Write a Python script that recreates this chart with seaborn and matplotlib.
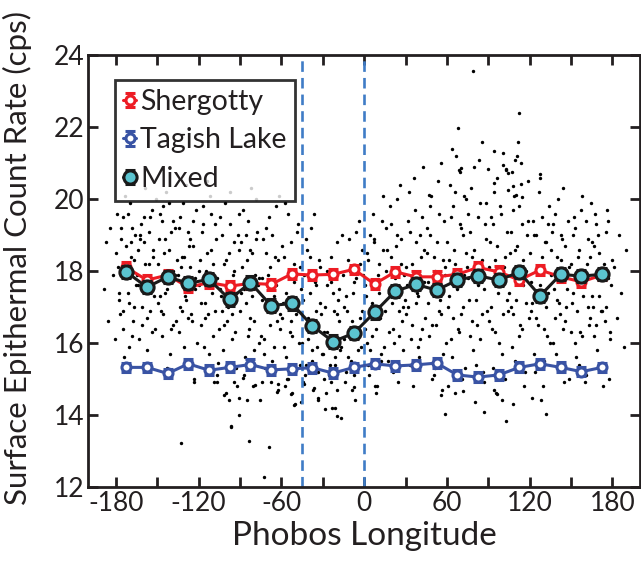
import matplotlib
matplotlib.use("Agg")
import matplotlib.pyplot as plt
from matplotlib.ticker import MultipleLocator
from matplotlib.legend_handler import HandlerErrorbar
from matplotlib.container import ErrorbarContainer
import seaborn as sns
import pandas as pd

# binned means, 15 degree bins
lon_bins = [-172.5, -157.5, -142.5, -127.5, -112.5, -97.5, -82.5, -67.5,
            -52.5, -37.5, -22.5, -7.5, 7.5, 22.5, 37.5, 52.5,
            67.5, 82.5, 97.5, 112.5, 127.5, 142.5, 157.5, 172.5]
shergotty = [18.10, 17.75, 17.89, 17.55, 17.68, 17.58, 17.66, 17.63,
             17.92, 17.89, 17.91, 18.05, 17.64, 17.98, 17.84, 17.84,
             17.91, 18.10, 17.98, 17.75, 18.03, 17.84, 17.70, 17.89]
shergotty_err = [0.14, 0.13, 0.14, 0.14, 0.15, 0.14, 0.15, 0.15,
                 0.14, 0.14, 0.14, 0.13, 0.13, 0.14, 0.15, 0.15,
                 0.15, 0.16, 0.16, 0.15, 0.15, 0.14, 0.14, 0.14]
tagish = [15.32, 15.32, 15.15, 15.42, 15.24, 15.32, 15.40, 15.25,
          15.28, 15.31, 15.16, 15.32, 15.42, 15.36, 15.39, 15.44,
          15.11, 15.05, 15.11, 15.32, 15.42, 15.32, 15.20, 15.32]
tagish_err = [0.13, 0.13, 0.13, 0.14, 0.14, 0.14, 0.15, 0.14,
              0.14, 0.14, 0.13, 0.13, 0.12, 0.13, 0.14, 0.14,
              0.15, 0.15, 0.15, 0.14, 0.14, 0.14, 0.13, 0.13]
mixed = [17.98, 17.55, 17.84, 17.66, 17.77, 17.21, 17.68, 17.04,
         17.10, 16.47, 16.04, 16.27, 16.85, 17.44, 17.63, 17.47,
         17.75, 17.87, 17.75, 17.97, 17.31, 17.91, 17.86, 17.91]
mixed_err = [0.17, 0.17, 0.17, 0.17, 0.17, 0.17, 0.17, 0.17,
             0.17, 0.17, 0.17, 0.17, 0.17, 0.17, 0.17, 0.17,
             0.17, 0.17, 0.17, 0.17, 0.17, 0.17, 0.17, 0.17]

dot_lon = [
    -179.2, -177.5, -176.1, -174.8, -173.3, -172.0, -170.6, -169.4, -168.1, -166.7,
    -178.6, -176.9, -175.2, -173.9, -172.6, -171.1, -169.9, -168.5, -167.2, -165.8,
    -164.3, -163.1, -161.8, -160.2, -159.0, -157.7, -156.3, -155.1, -153.6, -152.2,
    -164.8, -162.5, -161.0, -159.6, -158.2, -156.9, -155.5, -154.2, -152.8, -151.1,
    -149.4, -148.0, -146.7, -145.3, -144.0, -142.6, -141.1, -139.8, -138.3, -136.6,
    -149.0, -147.4, -146.0, -144.5, -143.1, -141.7, -140.3, -138.9, -137.4, -135.8,
    -134.5, -133.2, -131.8, -130.4, -129.1, -127.6, -126.2, -124.9, -123.5, -121.8,
    -134.0, -132.5, -131.1, -129.7, -128.3, -126.9, -125.4, -124.1, -122.6, -120.9,
    -119.2, -118.0, -116.5, -115.1, -113.8, -112.2, -110.9, -109.5, -108.0, -106.4,
    -119.6, -117.3, -116.0, -114.4, -113.0, -111.6, -110.2, -108.7, -107.3, -105.6,
    -104.6, -103.1, -101.8, -100.3, -99.0, -97.5, -96.1, -94.6, -93.0, -91.4,
    -104.0, -102.4, -101.1, -99.7, -98.2, -96.8, -95.3, -93.8, -92.2, -90.6,
    -89.4, -88.0, -86.6, -85.1, -83.7, -82.2, -80.8, -79.3, -77.8, -76.2,
    -89.0, -87.3, -85.9, -84.4, -82.9, -81.5, -80.0, -78.6, -77.0, -75.5,
    -74.6, -73.1, -71.8, -70.2, -68.9, -67.4, -66.0, -64.5, -63.1, -61.4,
    -74.0, -72.5, -71.0, -69.6, -68.2, -66.7, -65.2, -63.8, -62.3, -60.8,
    -59.4, -58.1, -56.5, -55.1, -53.8, -52.2, -50.9, -49.3, -47.8, -46.2,
    -59.0, -57.3, -55.8, -54.5, -53.0, -51.6, -50.1, -48.6, -47.1, -45.6,
    -44.5, -43.0, -41.7, -40.2, -38.8, -37.3, -35.9, -34.4, -32.9, -31.3,
    -44.0, -42.4, -41.0, -39.5, -38.1, -36.6, -35.1, -33.7, -32.2, -30.7,
    -29.4, -28.0, -26.6, -25.1, -23.7, -22.2, -20.8, -19.3, -17.8, -16.3,
    -29.0, -27.3, -25.9, -24.4, -22.9, -21.5, -20.0, -18.6, -17.1, -15.6,
    -14.4, -13.0, -11.6, -10.2, -8.7, -7.3, -5.8, -4.3, -2.9, -1.3,
    -14.0, -12.4, -11.0, -9.5, -8.1, -6.6, -5.1, -3.6, -2.1, -0.7,
    0.6, 2.0, 3.4, 4.9, 6.3, 7.8, 9.3, 10.7, 12.2, 13.8,
    1.1, 2.7, 4.1, 5.6, 7.0, 8.5, 10.0, 11.5, 13.0, 14.5,
    15.6, 17.0, 18.4, 19.9, 21.3, 22.8, 24.3, 25.7, 27.2, 28.7,
    16.1, 17.7, 19.1, 20.6, 22.0, 23.5, 25.0, 26.5, 27.9, 29.5,
    30.4, 31.8, 33.3, 34.7, 36.2, 37.7, 39.1, 40.6, 42.1, 43.7,
    31.0, 32.5, 34.0, 35.4, 36.9, 38.4, 39.9, 41.4, 42.9, 44.4,
    45.5, 46.9, 48.3, 49.8, 51.3, 52.7, 54.2, 55.7, 57.2, 58.7,
    46.0, 47.6, 49.1, 50.5, 52.0, 53.4, 54.9, 56.4, 57.9, 59.5,
    60.6, 62.0, 63.5, 64.9, 66.4, 67.9, 69.3, 70.8, 72.3, 73.8,
    61.2, 62.7, 64.2, 65.7, 67.1, 68.6, 70.1, 71.6, 73.1, 74.6,
    75.4, 76.8, 78.3, 79.8, 81.2, 82.7, 84.2, 85.6, 87.1, 88.6,
    76.0, 77.5, 79.0, 80.5, 82.0, 83.4, 84.9, 86.4, 87.9, 89.4,
    90.5, 91.9, 93.4, 94.9, 96.3, 97.8, 99.3, 100.8, 102.3, 103.8,
    91.1, 92.6, 94.1, 95.6, 97.1, 98.6, 100.1, 101.6, 103.1, 104.6,
    105.5, 107.0, 108.4, 109.9, 111.4, 112.9, 114.4, 115.8, 117.3, 118.8,
    106.1, 107.6, 109.1, 110.6, 112.1, 113.6, 115.1, 116.6, 118.1, 119.6,
    120.6, 122.1, 123.6, 125.0, 126.5, 128.0, 129.4, 130.9, 132.4, 133.9,
    121.2, 122.8, 124.3, 125.8, 127.3, 128.7, 130.2, 131.7, 133.2, 134.6,
    135.5, 137.0, 138.4, 139.9, 141.4, 142.9, 144.4, 145.8, 147.3, 148.8,
    136.1, 137.6, 139.1, 140.6, 142.1, 143.6, 145.1, 146.6, 148.1, 149.6,
    150.5, 152.0, 153.4, 154.9, 156.4, 157.9, 159.3, 160.8, 162.3, 163.8,
    151.1, 152.6, 154.1, 155.6, 157.1, 158.6, 160.1, 161.6, 163.1, 164.6,
    165.4, 166.9, 168.4, 169.9, 171.3, 172.8, 174.3, 175.8, 177.3, 178.7,
    166.0, 167.5, 169.0, 170.5, 172.0, 173.5, 175.0, 176.5, 178.0, 179.5,
    -189.0, -187.4, -185.6, -184.1, -182.3, -181.0, 181.2, 183.0, 184.6, 186.3,
    188.1, 189.5,
    79.0, 112.0, 68.3, 85.3, 63.4, 93.8, 110.8, 109.3, 70.2, 69.2,
    89.6, 100.8, 102.8, 104.2, 106.9, 127.3, 94.0, 107.9, 113.9, 104.0,
    47.1, 66.1, 72.4, 110.3, 114.7,
    -106.2, -123.7, -106.9, -101.8, -98.2, -94.2, -91.1, -85.0, -90.4, -96.9,
    -132.7, -83.6, -69.2, -72.7, -87.5, -78.9, -74.3, -62.5, -62.9, -57.6,
    -52.7, -50.8, -55.2, -45.7, -43.5, -36.7, -33.7, -28.6, -23.5, -19.9,
    -19.5, -7.3, 9.5, 50.5, 55.6, 58.3, 60.5, 71.4, 80.4, 87.0,
    94.2, 96.0, 99.9, 102.8, 108.1, 121.5, 128.0, 131.7,
]
dot_rate = [
    19.6, 17.2, 18.9, 16.4, 20.1, 17.8, 15.9, 18.4, 19.2, 17.0,
    18.1, 16.8, 19.5, 15.6, 18.7, 17.4, 19.9, 16.2, 18.3, 17.6,
    18.6, 16.1, 19.3, 17.5, 20.3, 15.8, 18.2, 16.9, 19.7, 17.3,
    17.9, 19.0, 16.5, 18.8, 15.4, 17.7, 19.5, 16.3, 18.4, 20.0,
    17.1, 19.6, 16.2, 18.5, 20.2, 17.7, 15.7, 19.1, 18.0, 16.6,
    18.9, 16.9, 19.8, 17.4, 15.3, 18.6, 16.4, 19.4, 17.9, 18.3,
    19.2, 17.0, 18.4, 15.9, 20.4, 16.7, 18.9, 17.6, 14.9, 19.7,
    16.3, 18.1, 19.9, 17.3, 15.5, 18.7, 16.8, 19.4, 17.8, 16.0,
    18.3, 16.5, 19.8, 17.1, 20.5, 15.7, 18.6, 16.2, 19.3, 15.1,
    17.6, 19.1, 15.9, 18.0, 16.8, 20.1, 17.4, 14.9, 18.9, 16.4,
    19.5, 16.9, 18.2, 14.6, 17.7, 20.2, 16.1, 18.8, 15.3, 19.0,
    17.3, 15.8, 19.9, 16.6, 18.5, 13.7, 17.9, 16.3, 14.8, 18.6,
    17.4, 19.7, 15.6, 18.3, 16.4, 20.3, 14.8, 17.9, 19.1, 16.0,
    18.8, 15.1, 17.1, 19.4, 16.7, 18.5, 15.8, 20.0, 17.6, 14.4,
    16.2, 18.9, 15.3, 17.6, 19.5, 14.9, 17.0, 18.4, 16.6, 20.1,
    17.8, 15.7, 19.2, 16.9, 18.1, 15.5, 17.3, 19.8, 14.7, 16.4,
    18.7, 15.9, 17.4, 19.6, 16.3, 14.6, 18.2, 16.8, 19.3, 15.4,
    17.1, 19.9, 15.0, 18.0, 16.6, 17.8, 14.3, 19.1, 16.0, 17.5,
    17.2, 15.1, 18.6, 16.4, 19.2, 14.7, 17.7, 15.9, 18.3, 16.8,
    14.9, 18.9, 16.1, 17.4, 15.5, 19.6, 16.9, 14.4, 18.1, 15.7,
    16.3, 14.6, 17.6, 15.4, 18.4, 16.9, 14.2, 17.2, 15.8, 19.0,
    15.0, 18.0, 16.0, 14.9, 17.4, 15.6, 18.8, 16.6, 13.9, 17.9,
    17.0, 15.2, 18.3, 16.2, 14.7, 17.7, 19.1, 15.8, 16.7, 18.6,
    14.9, 16.9, 18.9, 15.5, 17.4, 14.4, 16.4, 19.4, 15.9, 17.9,
    16.4, 18.5, 15.1, 17.7, 19.6, 14.8, 16.9, 18.2, 15.7, 20.1,
    17.3, 15.4, 19.0, 16.2, 18.8, 14.6, 17.9, 16.7, 19.4, 15.9,
    18.0, 15.5, 19.8, 17.1, 16.0, 18.7, 14.9, 20.4, 16.6, 17.9,
    19.2, 16.3, 18.4, 15.2, 17.5, 20.0, 16.9, 18.9, 15.8, 17.2,
    16.8, 19.4, 15.4, 18.2, 20.6, 17.1, 15.9, 19.0, 16.4, 18.6,
    17.6, 20.2, 16.1, 14.8, 19.7, 17.4, 15.6, 18.4, 20.9, 16.7,
    19.2, 16.2, 20.1, 17.4, 15.3, 18.8, 16.9, 21.0, 15.7, 18.1,
    17.7, 19.8, 15.0, 18.4, 16.5, 20.5, 17.2, 14.7, 19.4, 16.0,
    17.0, 20.4, 15.6, 18.6, 21.2, 16.4, 19.3, 15.0, 17.9, 20.0,
    18.3, 16.1, 19.8, 14.6, 17.5, 20.8, 16.8, 19.0, 15.3, 18.1,
    19.6, 16.2, 18.4, 20.9, 15.4, 17.6, 19.9, 16.8, 14.9, 18.9,
    17.2, 20.3, 15.8, 18.0, 16.5, 21.1, 17.9, 15.2, 19.3, 16.9,
    16.6, 19.5, 15.3, 18.3, 20.6, 16.0, 17.8, 21.3, 15.0, 19.1,
    18.8, 16.4, 20.2, 14.6, 17.4, 19.8, 15.7, 18.1, 20.8, 16.9,
    18.5, 15.9, 20.1, 17.2, 21.6, 16.5, 19.3, 14.8, 18.0, 20.5,
    17.0, 19.7, 15.5, 18.7, 16.2, 21.0, 17.6, 15.2, 19.0, 16.7,
    16.9, 19.4, 15.2, 18.1, 20.2, 17.3, 14.8, 18.8, 16.2, 19.8,
    17.7, 15.7, 19.0, 16.5, 20.6, 18.4, 15.5, 17.0, 19.3, 16.0,
    18.6, 16.0, 19.6, 17.2, 15.3, 18.3, 20.3, 16.6, 17.8, 15.0,
    19.1, 17.5, 15.7, 20.0, 16.8, 18.9, 14.9, 17.0, 19.4, 16.3,
    17.1, 19.5, 15.6, 18.4, 16.3, 20.1, 17.7, 15.1, 18.9, 16.7,
    19.0, 16.0, 17.9, 15.4, 19.7, 17.3, 14.9, 18.2, 16.5, 19.9,
    18.8, 16.2, 19.3, 17.3, 15.4, 18.0, 16.6, 19.7, 15.0, 17.6,
    17.0, 19.6, 15.8, 18.5, 16.9, 14.8, 19.1, 17.8, 16.1, 18.3,
    17.5, 18.8, 16.6, 19.2, 17.9, 16.1, 18.1, 16.7, 19.0, 17.4,
    15.9, 18.6,
    23.58, 22.39, 21.98, 21.58, 21.39, 21.35, 21.20, 21.08, 20.86, 20.76,
    20.84, 20.96, 20.83, 20.74, 20.75, 20.69, 20.44, 20.38, 20.42, 20.25,
    20.13, 20.19, 20.09, 20.12, 20.05,
    15.45, 14.99, 14.90, 14.56, 14.40, 14.90, 14.46, 14.42, 14.00, 13.65,
    13.21, 13.26, 13.10, 12.26, 15.02, 14.82, 14.92, 14.86, 14.63, 14.79,
    14.58, 14.28, 14.99, 14.37, 14.86, 14.76, 14.46, 14.16, 14.19, 13.98,
    14.69, 14.77, 14.79, 15.11, 14.54, 14.01, 14.81, 14.65, 14.36, 14.09,
    14.69, 14.59, 14.42, 13.82, 14.31, 14.48, 14.41, 14.03,
]
# denser core of the cloud
core_lon = [
    -179.8, -178.0, -176.5, -175.0, -173.6, -171.5, -170.2, -168.8, -167.5, -166.2,
    -164.0, -162.8, -161.3, -160.0, -158.6, -157.2, -155.8, -154.5, -153.0, -151.6,
    -149.7, -148.3, -146.9, -145.6, -144.2, -142.9, -141.4, -140.0, -138.6, -137.1,
    -134.8, -133.4, -132.0, -130.6, -129.3, -127.9, -126.5, -125.1, -123.8, -122.3,
    -119.9, -118.4, -117.0, -115.6, -114.2, -112.8, -111.3, -109.9, -108.4, -106.9,
    -104.3, -102.8, -101.4, -100.0, -98.6, -97.1, -95.7, -94.2, -92.6, -91.0,
    -89.7, -88.3, -86.9, -85.5, -84.0, -82.6, -81.1, -79.7, -78.2, -76.6,
    -74.3, -72.8, -71.4, -69.9, -68.5, -67.0, -65.6, -64.1, -62.7, -61.1,
    -59.7, -58.4, -56.9, -55.4, -53.4, -52.6, -51.2, -49.8, -48.2, -46.6,
    -44.8, -43.3, -42.0, -40.6, -39.2, -37.7, -36.3, -34.8, -33.3, -31.8,
    -29.7, -28.4, -27.0, -25.5, -24.1, -22.6, -21.2, -19.7, -18.2, -16.7,
    -14.7, -13.3, -11.9, -10.5, -9.1, -7.7, -6.2, -4.7, -3.3, -1.8,
    0.3, 1.7, 3.1, 4.5, 6.0, 7.4, 8.9, 10.4, 11.9, 13.4,
    15.3, 16.8, 18.1, 19.6, 21.0, 22.5, 24.0, 25.4, 26.9, 28.4,
    30.2, 31.6, 33.0, 34.5, 35.9, 37.4, 38.9, 40.3, 41.8, 43.3,
    45.2, 46.6, 48.0, 49.5, 51.0, 52.4, 53.9, 55.4, 56.9, 58.4,
    60.3, 61.8, 63.2, 64.6, 66.1, 67.6, 69.0, 70.5, 72.0, 73.5,
    75.1, 76.5, 78.0, 79.5, 80.9, 82.4, 83.9, 85.3, 86.8, 88.3,
    90.2, 91.6, 93.1, 94.6, 96.0, 97.5, 99.0, 100.5, 102.0, 103.5,
    105.2, 106.7, 108.1, 109.6, 111.1, 112.6, 114.1, 115.5, 117.0, 118.5,
    120.3, 121.8, 123.3, 124.7, 126.2, 127.7, 129.1, 130.6, 132.1, 133.6,
    135.2, 136.7, 138.1, 139.6, 141.1, 142.6, 144.1, 145.5, 147.0, 148.5,
    150.2, 151.7, 153.1, 154.6, 156.1, 157.6, 159.0, 160.5, 162.0, 163.5,
    165.1, 166.6, 168.1, 169.6, 171.0, 172.5, 174.0, 175.5, 177.0, 178.4,
]
core_rate = [
    18.5, 17.4, 19.2, 16.9, 18.0, 19.6, 17.1, 18.8, 16.6, 19.0,
    17.6, 18.9, 17.0, 19.5, 18.2, 16.7, 19.1, 17.8, 18.6, 16.4,
    18.2, 17.3, 19.4, 16.8, 18.9, 17.5, 19.9, 18.0, 16.5, 19.2,
    17.9, 19.5, 16.9, 18.4, 17.2, 19.1, 18.1, 16.6, 18.7, 17.5,
    18.0, 17.1, 19.3, 16.7, 18.5, 17.6, 19.6, 18.2, 16.9, 17.8,
    17.5, 19.0, 16.5, 18.3, 17.0, 19.3, 16.8, 18.0, 17.4, 19.6,
    16.9, 18.1, 17.5, 19.0, 16.2, 18.6, 17.3, 16.6, 18.9, 17.8,
    17.2, 16.1, 18.5, 17.9, 16.5, 19.0, 15.9, 17.6, 18.3, 16.8,
    16.7, 18.4, 15.6, 17.2, 18.8, 16.2, 17.7, 15.3, 16.9, 18.1,
    16.0, 17.9, 15.4, 16.7, 18.4, 15.8, 16.4, 17.6, 15.2, 17.1,
    15.7, 17.0, 16.3, 15.1, 17.7, 16.0, 15.4, 16.8, 17.5, 15.9,
    16.1, 17.3, 15.6, 18.0, 16.6, 15.1, 17.8, 16.3, 18.2, 16.9,
    17.6, 16.0, 18.3, 15.8, 17.1, 18.9, 16.4, 17.4, 15.5, 18.6,
    16.9, 18.6, 17.4, 19.3, 16.4, 17.8, 19.0, 16.2, 18.2, 17.0,
    18.1, 17.0, 19.1, 16.5, 17.9, 18.8, 17.3, 16.1, 19.5, 17.7,
    18.5, 17.1, 19.0, 16.5, 18.0, 17.5, 19.6, 16.8, 18.3, 17.9,
    18.8, 17.3, 19.5, 16.7, 18.2, 17.8, 16.3, 19.2, 17.0, 18.5,
    17.8, 19.1, 16.6, 18.6, 17.2, 19.5, 16.1, 18.3, 17.5, 19.9,
    18.1, 17.0, 19.3, 16.3, 18.7, 17.6, 19.6, 16.8, 18.4, 17.2,
    17.4, 19.1, 16.8, 18.6, 17.9, 19.8, 16.4, 18.3, 17.1, 19.4,
    18.5, 17.1, 19.0, 16.7, 18.1, 17.6, 19.5, 16.4, 18.8, 17.4,
    17.9, 19.3, 16.7, 18.4, 17.1, 19.0, 16.4, 18.7, 17.5, 18.1,
    18.2, 17.4, 19.2, 16.9, 18.6, 16.2, 17.8, 19.4, 17.0, 18.4,
    17.3, 18.7, 16.5, 19.0, 17.8, 16.9, 18.2, 17.0, 19.4, 16.3,
]

red = "#ED1C24"
blue = "#3953A4"
cyan = "#5BC4D0"
dash_blue = "#3F7CC6"
ink = "#231f20"

sns.set_style("white")
plt.rcParams["font.family"] = ["Lato", "DejaVu Sans"]
plt.rcParams["axes.unicode_minus"] = False

fig = plt.figure(figsize=(6.41, 5.64), dpi=100)
ax = fig.add_axes([0.1378, 0.1371, 0.8607, 0.7645])

dots = pd.DataFrame({"lon": dot_lon + core_lon, "rate": dot_rate + core_rate})
sns.scatterplot(data=dots, x="lon", y="rate", ax=ax, color="black",
                s=6, linewidth=0, zorder=1, legend=False)

ax.axvline(-45, color=dash_blue, lw=1.9, ls=(0, (4, 2.3)), zorder=2)
ax.axvline(0, color=dash_blue, lw=1.9, ls=(0, (4, 2.3)), zorder=2)

h_sh = ax.errorbar(lon_bins, shergotty, yerr=shergotty_err, color=red, lw=2.2,
                   marker="o", ms=6.5, mfc="white", mec=red, mew=2.2,
                   elinewidth=2.2, capsize=3.5, capthick=2.2, zorder=3,
                   label="Shergotty")
h_tl = ax.errorbar(lon_bins, tagish, yerr=tagish_err, color=blue, lw=2.2,
                   marker="o", ms=6.5, mfc="white", mec=blue, mew=2.2,
                   elinewidth=2.2, capsize=3.5, capthick=2.2, zorder=3,
                   label="Tagish Lake")
h_mx = ax.errorbar(lon_bins, mixed, yerr=mixed_err, color="#1a1a1a", lw=2.2,
                   marker="o", ms=9.5, mfc=cyan, mec="#1a1a1a", mew=2.2,
                   elinewidth=2.2, capsize=3.5, capthick=2.2, zorder=4,
                   label="Mixed")

ax.set_xlim(-200, 200)
ax.set_ylim(12, 24)
ax.xaxis.set_major_locator(MultipleLocator(60))
ax.xaxis.set_minor_locator(MultipleLocator(30))
ax.yaxis.set_major_locator(MultipleLocator(2))
ax.tick_params(which="both", direction="in", length=7.5, width=2,
               top=True, right=True, bottom=True, left=True, color=ink)
ax.tick_params(which="major", labelsize=19, pad=3, labelcolor=ink)
for sp in ax.spines.values():
    sp.set_linewidth(2)
    sp.set_color(ink)

ax.set_xlabel("Phobos Longitude", fontsize=24, color=ink, labelpad=4)
ax.set_ylabel("Surface Epithermal Count Rate (cps)", fontsize=22.5, color=ink)
ax.yaxis.set_label_coords(-0.103, 0.53)

leg = ax.legend(handles=[h_sh, h_tl, h_mx], loc="upper left",
                bbox_to_anchor=(0.048, 0.943), fontsize=20.5, frameon=True,
                fancybox=False, handlelength=0.45, handletextpad=0.15,
                borderpad=0.3, labelspacing=0.45, borderaxespad=0,
                handler_map={ErrorbarContainer: HandlerErrorbar(yerr_size=0.25)})
leg.get_frame().set_edgecolor("black")
leg.get_frame().set_linewidth(2)
for t in leg.get_texts():
    t.set_color(ink)

fig.savefig("out.png", dpi=100)
